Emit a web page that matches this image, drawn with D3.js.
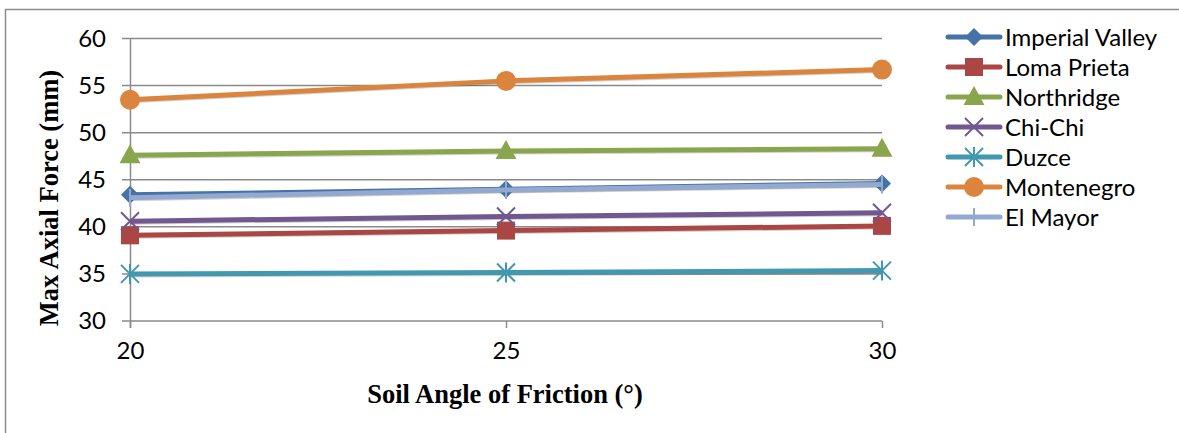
<!DOCTYPE html>
<html>
<head>
<meta charset="utf-8">
<script src="https://cdn.jsdelivr.net/npm/d3@7"></script>
<style>
body { margin: 0; background: #fff; }
</style>
</head>
<body>
<script>
var g_width = 1179
var g_height = 433

var angles = [20, 25, 30]
var yTicks = [30, 35, 40, 45, 50, 55, 60]
var seriesNames = ["Imperial Valley", "Loma Prieta", "Northridge", "Chi-Chi", "Duzce", "Montenegro", "El Mayor"]
var imperialValley = [43.4, 44.0, 44.6]
var lomaPrieta = [39.1, 39.6, 40.1]
var northridge = [47.6, 48.05, 48.3]
var chiChi = [40.6, 41.1, 41.5]
var duzce = [35.0, 35.15, 35.35]
var montenegro = [53.5, 55.5, 56.7]
var elMayor = [43.1, 43.9, 44.5]

var colors = ["#4572A7", "#AA4643", "#89A54E", "#71588F", "#4198AF", "#DB843D", "#93A9CF"]
var markers = ["diamond", "square", "triangle", "x", "star", "circle", "plus"]
var allValues = [imperialValley, lomaPrieta, northridge, chiChi, duzce, montenegro, elMayor]

var series = seriesNames.map(function (name, i) {
    return { name: name, values: allValues[i], color: colors[i], marker: markers[i] }
})

var labelFont = "Lato, 'Noto Sans', sans-serif"
var titleFont = "'Liberation Serif', 'Times New Roman', serif"

var svg = d3.select("body").append("svg")
    .attr("width", g_width)
    .attr("height", g_height)

// outer frame (left and top only are visible)
svg.append("path")
    .attr("d", "M5.5," + g_height + " L5.5,9.5 L" + g_width + ",9.5")
    .attr("fill", "none")
    .attr("stroke", "#8c8c8c")
    .attr("stroke-width", 1.5)

var xScale = d3.scaleLinear().domain([20, 30]).range([130, 882])
var yScale = d3.scaleLinear().domain([30, 60]).range([321, 38.5])

// horizontal gridlines
svg.append("g")
    .selectAll("line")
    .data(yTicks)
    .join("line")
    .attr("x1", 122)
    .attr("x2", xScale(30))
    .attr("y1", d => yScale(d))
    .attr("y2", d => yScale(d))
    .attr("stroke", "#8a8a8a")
    .attr("stroke-width", 1.5)

// y axis
var yAxis = d3.axisLeft(yScale).tickValues(yTicks).tickSize(0).tickPadding(24)
var yAxisPlot = svg.append("g")
    .attr("transform", "translate(130,0)")
    .call(yAxis)
yAxisPlot.select(".domain").attr("stroke", "#8a8a8a").attr("stroke-width", 1.5)
    .attr("d", "M0.5," + yScale(60) + "V" + (yScale(30) + 7))
yAxisPlot.selectAll("text")
    .style("font-family", labelFont)
    .style("font-size", "24px")
    .attr("fill", "#000")

// x axis
var xAxis = d3.axisBottom(xScale).tickValues(angles).tickSize(7).tickPadding(14)
var xAxisPlot = svg.append("g")
    .attr("transform", "translate(0," + yScale(30) + ")")
    .call(xAxis)
xAxisPlot.select(".domain").remove()
xAxisPlot.selectAll(".tick line").attr("stroke", "#8a8a8a").attr("stroke-width", 1.5)
xAxisPlot.selectAll("text")
    .style("font-family", labelFont)
    .style("font-size", "24px")
    .attr("fill", "#000")

// axis titles
svg.append("text")
    .attr("x", 505)
    .attr("y", 403)
    .attr("text-anchor", "middle")
    .style("font-family", titleFont)
    .style("font-weight", "bold")
    .style("font-size", "26.5px")
    .text("Soil Angle of Friction (°)")

svg.append("text")
    .attr("transform", "translate(58,198) rotate(-90)")
    .attr("text-anchor", "middle")
    .style("font-family", titleFont)
    .style("font-weight", "bold")
    .style("font-size", "26.5px")
    .text("Max Axial Force (mm)")

function drawMarker(g, type, color) {
    if (type == "diamond") {
        g.append("path").attr("d", "M0,-9L9,0L0,9L-9,0Z").attr("fill", color)
    } else if (type == "square") {
        g.append("rect").attr("x", -9).attr("y", -9).attr("width", 18).attr("height", 18).attr("fill", color)
    } else if (type == "triangle") {
        g.append("path").attr("d", "M0,-11L10.5,8L-10.5,8Z").attr("fill", color)
    } else if (type == "circle") {
        g.append("circle").attr("r", 10).attr("fill", color)
    } else if (type == "x") {
        g.append("path").attr("d", "M-9,-9L9,9M-9,9L9,-9").attr("stroke", color).attr("stroke-width", 2)
    } else if (type == "star") {
        g.append("path").attr("d", "M-9,-9L9,9M-9,9L9,-9M0,-10V10").attr("stroke", color).attr("stroke-width", 2)
    } else if (type == "plus") {
        g.append("path").attr("d", "M0,-9V9").attr("stroke", color).attr("stroke-width", 2)
    }
}

var line = d3.line()
    .x((d, i) => xScale(angles[i]))
    .y(d => yScale(d))

series.forEach(function (s) {
    var g = svg.append("g")
    // faint shadow under the line
    g.append("path")
        .attr("d", line(s.values))
        .attr("transform", "translate(1,1.5)")
        .attr("fill", "none")
        .attr("stroke", "rgba(0,0,0,0.18)")
        .attr("stroke-width", 4)
    g.append("path")
        .attr("d", line(s.values))
        .attr("fill", "none")
        .attr("stroke", s.color)
        .attr("stroke-width", 5)
        .attr("stroke-linejoin", "round")
    s.values.forEach(function (v, i) {
        var m = g.append("g").attr("transform", "translate(" + xScale(angles[i]) + "," + yScale(v) + ")")
        drawMarker(m, s.marker, s.color)
    })
})

// legend
var legend = svg.append("g").attr("transform", "translate(946,37)")
series.forEach(function (s, i) {
    var row = legend.append("g").attr("transform", "translate(0," + (i * 30) + ")")
    row.append("line")
        .attr("x1", 2).attr("x2", 54)
        .attr("stroke", s.color)
        .attr("stroke-width", 5)
        .attr("stroke-linecap", "round")
    var m = row.append("g").attr("transform", "translate(28,0)")
    drawMarker(m, s.marker, s.color)
    row.append("text")
        .attr("x", 59)
        .attr("y", 8.5)
        .style("font-family", labelFont)
        .style("font-size", "24px")
        .text(s.name)
})
</script>
</body>
</html>
